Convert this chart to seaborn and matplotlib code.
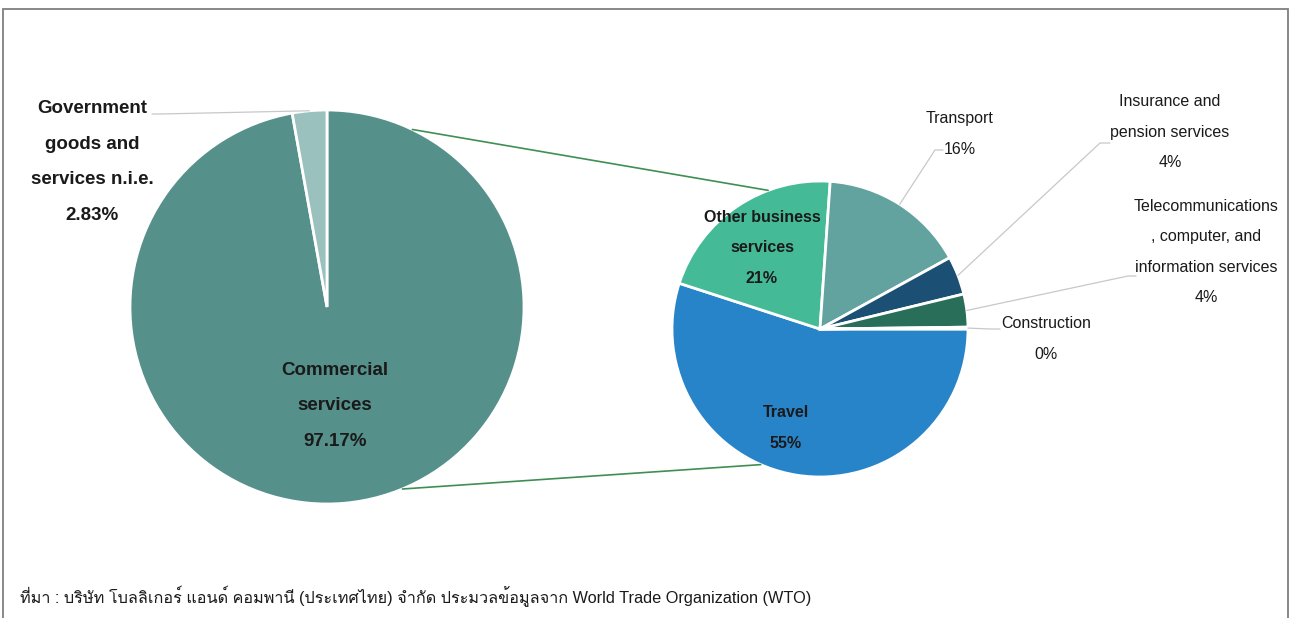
import matplotlib.pyplot as plt
from matplotlib import font_manager, ft2font
from matplotlib.patches import Rectangle
import numpy as np
import seaborn as sns

# left pie
main_labels = ['Commercial\nservices', 'Government\ngoods and\nservices n.i.e.']
main_values = [97.17, 2.83]
main_colors = ['#55908b', '#9bc1be']

# right pie (breakdown of commercial services)
sub_labels = ['Travel', 'Other business\nservices', 'Transport',
              'Insurance and\npension services',
              'Telecommunications\n, computer, and\ninformation services',
              'Construction']
sub_values = [55.0, 21.1, 15.9, 4.2, 3.6, 0.2]
sub_colors = ['#2884c8', '#44ba96', '#62a39f', '#1b4f74', '#296e59', '#7fb6d9']

source = 'ที่มา : บริษัท โบลลิเกอร์ แอนด์ คอมพานี (ประเทศไทย) จำกัด ประมวลข้อมูลจาก World Trade Organization (WTO)'

W, H = 1290, 618


def find_thai_font():
    for f in font_manager.fontManager.ttflist:
        try:
            if ord('ม') in ft2font.FT2Font(f.fname).get_charmap():
                return f.name
        except Exception:
            pass
    return 'DejaVu Sans'


def py(y):
    # image y (top down) -> data y (bottom up)
    return H - y


sns.set_theme(style='white')
thai_font = find_thai_font()
plt.rcParams['font.family'] = ['Liberation Sans', thai_font, 'DejaVu Sans']

fig = plt.figure(figsize=(W / 100, H / 100), dpi=100)
ax = fig.add_axes([0, 0, 1, 1])

c1, r1 = (327, py(307)), 197
c2, r2 = (820, py(329)), 148

w1, _ = ax.pie(main_values, colors=main_colors, startangle=90, counterclock=False,
               center=c1, radius=r1, wedgeprops=dict(edgecolor='white', linewidth=2))
w2, _ = ax.pie(sub_values, colors=sub_colors, startangle=0, counterclock=False,
               center=c2, radius=r2, wedgeprops=dict(edgecolor='white', linewidth=2))

ax.set_xlim(0, W)
ax.set_ylim(0, H)
ax.set_aspect('equal')
ax.axis('off')


def on_circle(c, r, ang):
    a = np.deg2rad(ang)
    return c[0] + r * np.cos(a), c[1] + r * np.sin(a)


# connector lines between the pies
for a1, a2 in [(64.3, 110.5), (-67.5, -113.6)]:
    p1 = on_circle(c1, r1, a1)
    p2 = on_circle(c2, r2, a2)
    ax.plot([p1[0], p2[0]], [p1[1], p2[1]], color='#3f8f55', lw=1.2)

txt_col = '#1a1a1a'
lead_col = '#c8c8c8'

# left pie labels
main_pos = [(335, 406), (92, 162)]
for lab, v, pos in zip(main_labels, main_values, main_pos):
    ax.text(pos[0], py(pos[1]), f'{lab}\n{v:.2f}%', ha='center', va='center',
            fontsize=13.5, fontweight='bold', color=txt_col, linespacing=2.43)

# leader for Government slice
wg = w1[1]
p = on_circle(c1, r1, (wg.theta1 + wg.theta2) / 2)
ax.plot([p[0], 160, 152], [p[1], py(114), py(114)], color=lead_col, lw=0.9)

# right pie labels
sub_pos = [(786, 428), (762, 248), (960, 134), (1170, 132), (1206, 252), (1046, 339)]
sub_bold = [True, True, False, False, False, False]
for lab, v, pos, b in zip(sub_labels, sub_values, sub_pos, sub_bold):
    ax.text(pos[0], py(pos[1]), f'{lab}\n{round(v)}%', ha='center', va='center',
            fontsize=11.5, fontweight='bold' if b else 'normal', color=txt_col,
            linespacing=2.3)

# leader lines for outside labels (elbow, end)
leaders = {2: [(935, 150), (943, 150)],
           3: [(1100, 143), (1110, 143)],
           4: [(1128, 276), (1136, 276)],
           5: [(990, 329), (1000, 329)]}
for i, pts in leaders.items():
    wd = w2[i]
    p = on_circle(c2, r2, (wd.theta1 + wd.theta2) / 2)
    xs = [p[0]] + [q[0] for q in pts]
    ys = [p[1]] + [py(q[1]) for q in pts]
    ax.plot(xs, ys, color=lead_col, lw=0.9)

# source note
ax.text(20, py(596), source, ha='left', va='center', fontsize=11.7, color=txt_col)

# frame
fig.add_artist(Rectangle((3 / W, -0.05), (1288 - 3) / W, (H - 9) / H + 0.05,
                         transform=fig.transFigure, fill=False,
                         edgecolor='#7f7f7f', lw=1.3))

fig.savefig('out.png', dpi=100)
